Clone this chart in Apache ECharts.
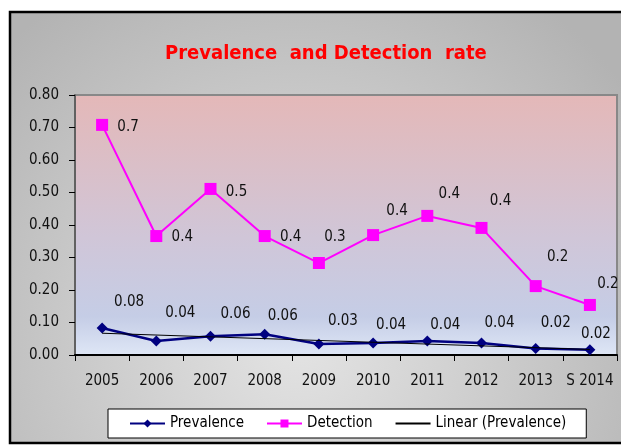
<!DOCTYPE html>
<html>
<head>
<meta charset="utf-8">
<script src="https://cdn.jsdelivr.net/npm/echarts@6/dist/echarts.min.js"></script>
<style>
html,body{margin:0;padding:0;background:#fff;}
#c{width:621px;height:445px;}
</style>
</head>
<body>
<div id="c"></div>
<script>
const years = ['2005','2006','2007','2008','2009','2010','2011','2012','2013','S 2014'];
const prevalence = [0.083, 0.043, 0.058, 0.064, 0.034, 0.037, 0.043, 0.037, 0.020, 0.016];
const detection = [0.708, 0.366, 0.511, 0.366, 0.283, 0.369, 0.428, 0.391, 0.212, 0.154];
const trendStart = 0.067;
const trendEnd = 0.017;
const yTicks = [0, 0.1, 0.2, 0.3, 0.4, 0.5, 0.6, 0.7, 0.8];

const FONT = "'DejaVu Sans Condensed','Liberation Sans Narrow','Open Sans',sans-serif";

// label placement (styling only)
const detOffsets = [[26,2],[26,1],[26,3],[26,1],[16,-26],[24,-24],[22,-22],[19,-27],[22,-29],[18,-21]];
const prevOffsets = [[27,-26],[24,-28],[25,-22],[18,-18],[24,-23],[18,-18],[18,-16],[18,-20],[20,-25],[6,-16]];

function items(vals, offs, digits) {
  return vals.map((v, i) => ({
    value: v,
    label: { show: true, position: 'inside', offset: offs[i], formatter: v.toFixed(digits) }
  }));
}

const trend = years.map((_, i) => i === 0 ? trendStart : (i === years.length - 1 ? trendEnd : null));

const chart = echarts.init(document.getElementById('c'), null, {renderer: 'canvas'});
chart.setOption({
  animation: false,
  graphic: [{
    type: 'rect', z: -100, silent: true,
    shape: {x: 10, y: 12, width: 640, height: 431},
    style: {
      fill: new echarts.graphic.RadialGradient(0.45, 0.75, 0.95, [
        {offset: 0, color: '#e4e4e4'}, {offset: 1, color: '#b3b3b3'}
      ]),
      stroke: '#000', lineWidth: 2.5
    }
  }],
  title: {
    text: 'Prevalence  and Detection  rate',
    left: 160, top: 39,
    textStyle: {color: '#ff0000', fontWeight: 'bold', fontSize: 20, fontFamily: FONT}
  },
  legend: {
    left: 108, top: 409,
    backgroundColor: '#fff', borderColor: '#000', borderWidth: 1,
    padding: [7, 20, 7, 21], itemGap: 22, itemWidth: 35, itemHeight: 10,
    textStyle: {fontSize: 15, color: '#000', fontFamily: FONT},
    data: ['Prevalence', 'Detection',
      {name: 'Linear (Prevalence)', itemStyle: {color: 'rgba(0,0,0,0)', borderWidth: 0, opacity: 0}}]
  },
  grid: {
    left: 75, right: 4, top: 95, bottom: 90, show: true,
    borderColor: '#888', borderWidth: 2,
    backgroundColor: new echarts.graphic.LinearGradient(0, 0, 0, 1, [
      {offset: 0, color: '#e4b8b8'},
      {offset: 0.55, color: '#d0c6d8'},
      {offset: 0.85, color: '#c5cde6'},
      {offset: 1, color: '#dfe7f6'}
    ])
  },
  xAxis: {
    type: 'category', data: years, boundaryGap: true,
    axisLine: {lineStyle: {color: '#000', width: 2}},
    axisTick: {show: true, interval: 0, length: 6, lineStyle: {color: '#000'}},
    axisLabel: {interval: 0, margin: 19, fontSize: 15, color: '#111', fontFamily: FONT},
    splitLine: {show: false}
  },
  yAxis: {
    type: 'value', min: yTicks[0], max: yTicks[yTicks.length - 1], interval: 0.1,
    axisLine: {show: true, lineStyle: {color: '#555', width: 1.5}},
    axisTick: {show: true, length: 6, lineStyle: {color: '#000'}},
    axisLabel: {margin: 16, fontSize: 15, color: '#111', fontFamily: FONT, formatter: v => v.toFixed(2)},
    splitLine: {show: false}
  },
  series: [
    {
      name: 'Prevalence', type: 'line', data: items(prevalence, prevOffsets, 2),
      symbol: 'diamond', symbolSize: 11, z: 3,
      itemStyle: {color: '#000080'}, lineStyle: {color: '#000080', width: 2.5},
      label: {fontSize: 15, color: '#111', fontFamily: FONT}
    },
    {
      name: 'Detection', type: 'line', data: items(detection, detOffsets, 1),
      symbol: 'rect', symbolSize: 12, z: 3,
      itemStyle: {color: '#ff00ff'}, lineStyle: {color: '#ff00ff', width: 2},
      label: {fontSize: 15, color: '#111', fontFamily: FONT}
    },
    {
      name: 'Linear (Prevalence)', type: 'line', data: trend, connectNulls: true,
      symbol: 'none', z: 4,
      itemStyle: {color: '#000'}, lineStyle: {color: '#000', width: 1}
    }
  ]
});
</script>
</body>
</html>
